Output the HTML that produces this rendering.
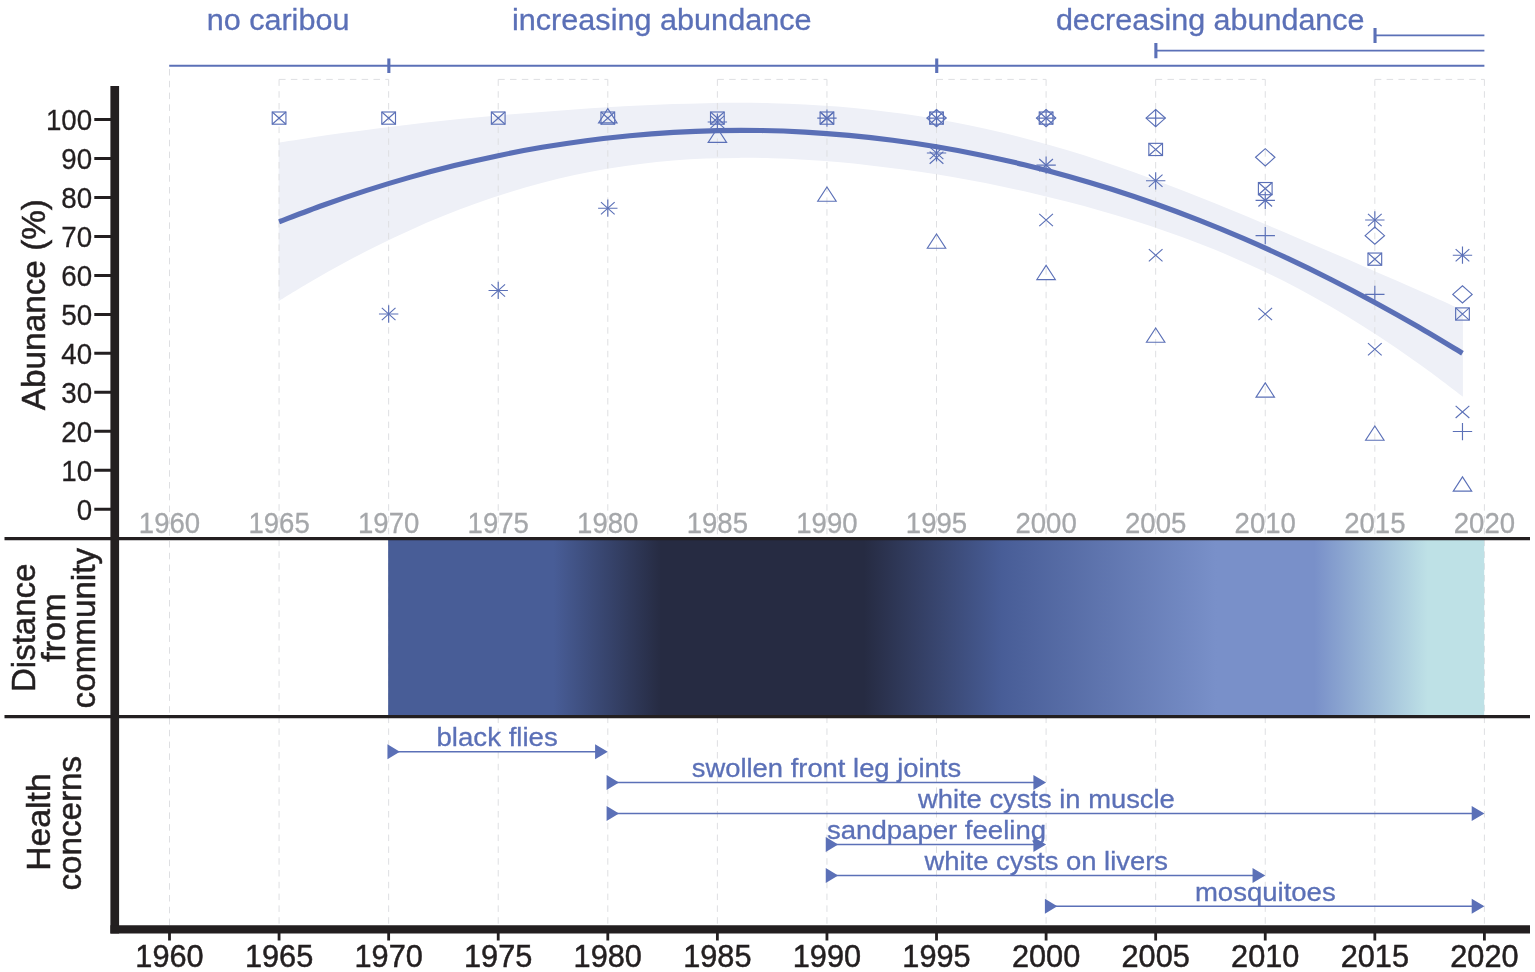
<!DOCTYPE html>
<html lang="en">
<head>
<meta charset="utf-8">
<title>Caribou abundance, distance from community and health concerns</title>
<style>
html,body{margin:0;padding:0;background:#fff;}
body{width:1535px;height:972px;overflow:hidden;}
svg{display:block;}
text{white-space:pre;}
</style>
</head>
<body>
<svg width="1535" height="972" viewBox="0 0 1535 972" font-family='"Liberation Sans", sans-serif'>
<rect width="1535" height="972" fill="#fff"/>
<path d="M278.64 142.76 C284.12 141.89 300.55 139.21 311.51 137.55 C322.47 135.88 333.42 134.29 344.38 132.77 C355.34 131.24 366.3 129.79 377.25 128.4 C388.21 127.01 399.17 125.69 410.13 124.42 C421.08 123.16 432.04 121.96 443 120.81 C453.96 119.66 464.91 118.58 475.87 117.54 C486.83 116.5 497.79 115.51 508.74 114.57 C519.7 113.63 530.66 112.73 541.62 111.88 C552.57 111.03 563.53 110.23 574.49 109.47 C585.45 108.71 596.4 108 607.36 107.34 C618.32 106.68 629.28 106.07 640.23 105.53 C651.19 104.99 662.15 104.51 673.11 104.12 C684.06 103.73 695.02 103.4 705.98 103.19 C716.94 102.98 727.89 102.86 738.85 102.87 C749.81 102.88 760.77 103 771.72 103.27 C782.68 103.54 793.64 103.93 804.6 104.48 C815.55 105.04 826.51 105.73 837.47 106.6 C848.43 107.47 859.38 108.49 870.34 109.69 C881.3 110.89 892.26 112.26 903.21 113.81 C914.17 115.35 925.13 117.07 936.09 118.97 C947.04 120.88 958 122.96 968.96 125.22 C979.92 127.48 990.87 129.92 1001.83 132.53 C1012.79 135.15 1023.75 137.95 1034.7 140.92 C1045.66 143.89 1056.62 147.03 1067.58 150.34 C1078.53 153.64 1089.49 157.12 1100.45 160.75 C1111.41 164.37 1122.36 168.16 1133.32 172.06 C1144.28 175.97 1155.24 180.04 1166.19 184.19 C1177.15 188.35 1188.11 192.64 1199.07 196.99 C1210.02 201.35 1220.98 205.81 1231.94 210.31 C1242.9 214.81 1253.85 219.4 1264.81 223.99 C1275.77 228.59 1286.73 233.24 1297.68 237.9 C1308.64 242.56 1319.6 247.25 1330.56 251.95 C1341.51 256.66 1352.47 261.39 1363.43 266.15 C1374.39 270.91 1385.34 275.69 1396.3 280.51 C1407.26 285.34 1418.07 290.12 1429.17 295.09 C1440.28 300.07 1457.3 307.81 1462.92 310.36 L1462.92 396.81 C1457.3 392.56 1440.28 379.43 1429.17 371.31 C1418.07 363.18 1407.26 355.54 1396.3 348.06 C1385.34 340.58 1374.39 333.37 1363.43 326.44 C1352.47 319.52 1341.51 312.87 1330.56 306.51 C1319.6 300.15 1308.64 294.08 1297.68 288.29 C1286.73 282.5 1275.77 277.01 1264.81 271.77 C1253.85 266.54 1242.9 261.59 1231.94 256.88 C1220.98 252.16 1210.02 247.72 1199.07 243.47 C1188.11 239.23 1177.15 235.23 1166.19 231.41 C1155.24 227.58 1144.28 223.97 1133.32 220.51 C1122.36 217.06 1111.41 213.79 1100.45 210.67 C1089.49 207.54 1078.53 204.58 1067.58 201.76 C1056.62 198.93 1045.66 196.26 1034.7 193.71 C1023.75 191.16 1012.79 188.76 1001.83 186.48 C990.87 184.2 979.92 182.06 968.96 180.04 C958 178.02 947.04 176.13 936.09 174.37 C925.13 172.61 914.17 170.97 903.21 169.48 C892.26 167.98 881.3 166.61 870.34 165.38 C859.38 164.16 848.43 163.06 837.47 162.12 C826.51 161.17 815.55 160.37 804.6 159.73 C793.64 159.09 782.68 158.6 771.72 158.29 C760.77 157.98 749.81 157.83 738.85 157.88 C727.89 157.94 716.94 158.16 705.98 158.61 C695.02 159.06 684.06 159.7 673.11 160.59 C662.15 161.47 651.19 162.57 640.23 163.92 C629.28 165.28 618.32 166.87 607.36 168.72 C596.4 170.57 585.45 172.67 574.49 175.04 C563.53 177.41 552.57 180.04 541.62 182.93 C530.66 185.83 519.7 188.99 508.74 192.41 C497.79 195.83 486.83 199.51 475.87 203.45 C464.91 207.39 453.96 211.58 443 216.03 C432.04 220.48 421.08 225.18 410.13 230.13 C399.17 235.08 388.21 240.28 377.25 245.72 C366.3 251.16 355.34 256.84 344.38 262.77 C333.42 268.69 322.47 274.85 311.51 281.25 C300.55 287.65 284.12 297.84 278.64 301.16 Z" fill="#eef0f7"/>
<g stroke="#dedfe2" stroke-width="1" stroke-dasharray="6.5 5.3" fill="none">
<line x1="169.5" y1="69" x2="169.5" y2="926"/>
<line x1="279.07" y1="79.4" x2="279.07" y2="926"/>
<line x1="388.65" y1="79.4" x2="388.65" y2="926"/>
<line x1="498.22" y1="79.4" x2="498.22" y2="926"/>
<line x1="607.8" y1="79.4" x2="607.8" y2="926"/>
<line x1="717.38" y1="79.4" x2="717.38" y2="926"/>
<line x1="826.95" y1="79.4" x2="826.95" y2="926"/>
<line x1="936.52" y1="79.4" x2="936.52" y2="926"/>
<line x1="1046.1" y1="79.4" x2="1046.1" y2="926"/>
<line x1="1155.67" y1="79.4" x2="1155.67" y2="926"/>
<line x1="1265.25" y1="79.4" x2="1265.25" y2="926"/>
<line x1="1374.83" y1="79.4" x2="1374.83" y2="926"/>
<line x1="1484.4" y1="79.4" x2="1484.4" y2="926"/>
<line x1="279.07" y1="79.4" x2="388.65" y2="79.4"/>
<line x1="498.22" y1="79.4" x2="607.8" y2="79.4"/>
<line x1="717.38" y1="79.4" x2="826.95" y2="79.4"/>
<line x1="936.52" y1="79.4" x2="1046.1" y2="79.4"/>
<line x1="1155.67" y1="79.4" x2="1265.25" y2="79.4"/>
<line x1="1374.83" y1="79.4" x2="1484.4" y2="79.4"/>
</g>
<g fill="none" stroke="#5b70b7" stroke-width="1.15">
<rect x="272.22" y="112" width="13.7" height="12.2"/>
<path d="M272.22 112L285.93 124.2M272.22 124.2L285.93 112"/>
<rect x="381.8" y="112" width="13.7" height="12.2"/>
<path d="M381.8 112L395.5 124.2M381.8 124.2L395.5 112"/>
<rect x="491.37" y="112" width="13.7" height="12.2"/>
<path d="M491.37 112L505.07 124.2M491.37 124.2L505.07 112"/>
<rect x="600.95" y="112" width="13.7" height="12.2"/>
<path d="M600.95 112L614.65 124.2M600.95 124.2L614.65 112"/>
<rect x="710.52" y="112" width="13.7" height="12.2"/>
<path d="M710.52 112L724.23 124.2M710.52 124.2L724.23 112"/>
<rect x="820.1" y="112" width="13.7" height="12.2"/>
<path d="M820.1 112L833.8 124.2M820.1 124.2L833.8 112"/>
<rect x="929.67" y="112" width="13.7" height="12.2"/>
<path d="M929.67 112L943.38 124.2M929.67 124.2L943.38 112"/>
<rect x="1039.25" y="112" width="13.7" height="12.2"/>
<path d="M1039.25 112L1052.95 124.2M1039.25 124.2L1052.95 112"/>
<rect x="1148.83" y="143.34" width="13.7" height="12.2"/>
<path d="M1148.83 143.34L1162.52 155.54M1148.83 155.54L1162.52 143.34"/>
<rect x="1258.4" y="182.52" width="13.7" height="12.2"/>
<path d="M1258.4 182.52L1272.1 194.72M1258.4 194.72L1272.1 182.52"/>
<rect x="1367.98" y="253.05" width="13.7" height="12.2"/>
<path d="M1367.98 253.05L1381.67 265.25M1367.98 265.25L1381.67 253.05"/>
<rect x="1455.63" y="307.9" width="13.7" height="12.2"/>
<path d="M1455.63 307.9L1469.33 320.1M1455.63 320.1L1469.33 307.9"/>
<path d="M381.8 307.9L395.5 320.1M381.8 320.1L395.5 307.9"/>
<path d="M378.96 314H398.34M388.65 305.37V322.63"/>
<path d="M491.37 284.39L505.07 296.59M491.37 296.59L505.07 284.39"/>
<path d="M488.54 290.49H507.91M498.22 281.87V299.12"/>
<path d="M600.95 202.11L614.65 214.31M600.95 214.31L614.65 202.11"/>
<path d="M598.11 208.21H617.49M607.8 199.59V216.84"/>
<path d="M710.52 115.92L724.23 128.12M710.52 128.12L724.23 115.92"/>
<path d="M707.69 122.02H727.06M717.38 113.39V130.64"/>
<path d="M820.1 112L833.8 124.2M820.1 124.2L833.8 112"/>
<path d="M817.26 118.1H836.64M826.95 109.47V126.73"/>
<path d="M929.67 146.87L943.38 159.07M929.67 159.07L943.38 146.87"/>
<path d="M926.84 152.97H946.21M936.52 144.34V161.6"/>
<path d="M1039.25 159.02L1052.95 171.22M1039.25 171.22L1052.95 159.02"/>
<path d="M1036.41 165.12H1055.79M1046.1 156.49V173.74"/>
<path d="M1148.83 174.69L1162.52 186.89M1148.83 186.89L1162.52 174.69"/>
<path d="M1145.99 180.79H1165.36M1155.67 172.16V189.41"/>
<path d="M1258.4 194.28L1272.1 206.48M1258.4 206.48L1272.1 194.28"/>
<path d="M1255.56 200.38H1274.94M1265.25 191.75V209"/>
<path d="M1367.98 213.87L1381.67 226.07M1367.98 226.07L1381.67 213.87"/>
<path d="M1365.14 219.97H1384.51M1374.83 211.34V228.59"/>
<path d="M1455.63 249.13L1469.33 261.33M1455.63 261.33L1469.33 249.13"/>
<path d="M1452.8 255.23H1472.17M1462.48 246.6V263.86"/>
<path d="M607.8 108.61L617.03 122.84L598.57 122.84Z"/>
<path d="M717.38 128.2L726.6 142.43L708.15 142.43Z"/>
<path d="M826.95 186.97L836.18 201.2L817.72 201.2Z"/>
<path d="M936.52 233.99L945.75 248.22L927.3 248.22Z"/>
<path d="M1046.1 265.33L1055.33 279.56L1036.87 279.56Z"/>
<path d="M1155.67 328.02L1164.9 342.25L1146.45 342.25Z"/>
<path d="M1265.25 382.87L1274.48 397.1L1256.02 397.1Z"/>
<path d="M1374.83 425.97L1384.05 440.2L1365.6 440.2Z"/>
<path d="M1462.48 476.91L1471.71 491.14L1453.26 491.14Z"/>
<path d="M926.84 118.1L936.52 109.47L946.21 118.1L936.52 126.73Z"/>
<path d="M1036.41 118.1L1046.1 109.47L1055.79 118.1L1046.1 126.73Z"/>
<path d="M1145.99 118.1L1155.67 109.47L1165.36 118.1L1155.67 126.73Z"/>
<path d="M1255.56 157.28L1265.25 148.65L1274.94 157.28L1265.25 165.91Z"/>
<path d="M1365.14 235.64L1374.83 227.01L1384.51 235.64L1374.83 244.27Z"/>
<path d="M1452.8 294.41L1462.48 285.78L1472.17 294.41L1462.48 303.04Z"/>
<path d="M926.84 118.1H946.21M936.52 109.47V126.73"/>
<path d="M1036.41 118.1H1055.79M1046.1 109.47V126.73"/>
<path d="M1145.99 118.1H1165.36M1155.67 109.47V126.73"/>
<path d="M1255.56 235.64H1274.94M1265.25 227.01V244.27"/>
<path d="M1365.14 294.41H1384.51M1374.83 285.78V303.04"/>
<path d="M1452.8 431.54H1472.17M1462.48 422.91V440.17"/>
<path d="M929.67 151.57L943.38 163.77M929.67 163.77L943.38 151.57"/>
<path d="M1039.25 213.87L1052.95 226.07M1039.25 226.07L1052.95 213.87"/>
<path d="M1148.83 249.13L1162.52 261.33M1148.83 261.33L1162.52 249.13"/>
<path d="M1258.4 307.9L1272.1 320.1M1258.4 320.1L1272.1 307.9"/>
<path d="M1367.98 343.16L1381.67 355.36M1367.98 355.36L1381.67 343.16"/>
<path d="M1455.63 405.85L1469.33 418.05M1455.63 418.05L1469.33 405.85"/>
</g>
<path d="M279.07 221.78 C286.38 219.03 308.29 210.49 322.9 205.26 C337.51 200.03 352.12 195.07 366.74 190.38 C381.35 185.7 395.95 181.29 410.56 177.15 C425.18 173.02 439.78 169.16 454.39 165.57 C469 161.98 483.61 158.67 498.22 155.63 C512.84 152.59 527.45 149.82 542.06 147.33 C556.67 144.84 571.27 142.63 585.88 140.69 C600.5 138.74 615.1 137.08 629.71 135.68 C644.32 134.29 658.93 133.17 673.54 132.33 C688.15 131.48 702.76 130.91 717.38 130.62 C731.99 130.32 746.59 130.3 761.2 130.55 C775.81 130.8 790.42 131.33 805.03 132.13 C819.64 132.93 834.25 134.01 848.87 135.36 C863.48 136.71 878.08 138.33 892.69 140.23 C907.3 142.13 921.91 144.3 936.52 146.74 C951.13 149.19 965.75 151.91 980.36 154.91 C994.97 157.9 1009.57 161.17 1024.18 164.72 C1038.79 168.26 1053.4 172.08 1068.01 176.17 C1082.62 180.26 1097.23 184.63 1111.84 189.27 C1126.45 193.91 1141.07 198.83 1155.67 204.02 C1170.28 209.2 1184.89 214.67 1199.5 220.41 C1214.11 226.14 1228.72 232.16 1243.34 238.44 C1257.95 244.73 1272.56 251.29 1287.16 258.13 C1301.77 264.96 1316.38 272.07 1330.99 279.45 C1345.61 286.84 1360.22 294.5 1374.83 302.43 C1389.43 310.36 1404.05 318.57 1418.65 327.05 C1433.26 335.53 1455.18 348.94 1462.48 353.31" fill="none" stroke="#5a6fb6" stroke-width="5.1"/>
<defs><linearGradient id="g" x1="0" y1="0" x2="1" y2="0">
<stop offset="0" stop-color="#485d97"/>
<stop offset="0.151" stop-color="#485d97"/>
<stop offset="0.249" stop-color="#262b42"/>
<stop offset="0.434" stop-color="#262b42"/>
<stop offset="0.56" stop-color="#485d97"/>
<stop offset="0.756" stop-color="#7990c9"/>
<stop offset="0.845" stop-color="#7990c9"/>
<stop offset="0.9485" stop-color="#bee1e6"/>
<stop offset="1" stop-color="#bee1e6"/>
</linearGradient></defs>
<rect x="388.15" y="539" width="1096.05" height="177" fill="url(#g)"/>
<g stroke="#5b70b7" fill="none">
<path d="M169.2 65.75H1484.4" stroke-width="1.8"/>
<path d="M1155.67 50.6H1484.4" stroke-width="1.8"/>
<path d="M1374.83 35.45H1484.4" stroke-width="1.8"/>
<path d="M388.85 58.4V73.1M936.73 58.4V73.1M1155.88 43V58.3M1375.03 27.9V43.1" stroke-width="3.1"/>
</g>
<path d="M388.65 751.7H605.8" stroke="#5b70b7" stroke-width="1.5" fill="none"/>
<path d="M387.45 744.2L399.85 751.7L387.45 759.2ZM595.1 744.2L607.8 751.7L595.1 759.2Z" fill="#5b70b7"/>
<path d="M607.8 782.6H1044.1" stroke="#5b70b7" stroke-width="1.5" fill="none"/>
<path d="M606.6 775.1L619 782.6L606.6 790.1ZM1033.4 775.1L1046.1 782.6L1033.4 790.1Z" fill="#5b70b7"/>
<path d="M607.8 813.5H1482.4" stroke="#5b70b7" stroke-width="1.5" fill="none"/>
<path d="M606.6 806L619 813.5L606.6 821ZM1471.7 806L1484.4 813.5L1471.7 821Z" fill="#5b70b7"/>
<path d="M826.95 844.4H1044.1" stroke="#5b70b7" stroke-width="1.5" fill="none"/>
<path d="M825.75 836.9L838.15 844.4L825.75 851.9ZM1033.4 836.9L1046.1 844.4L1033.4 851.9Z" fill="#5b70b7"/>
<path d="M826.95 875.5H1263.25" stroke="#5b70b7" stroke-width="1.5" fill="none"/>
<path d="M825.75 868L838.15 875.5L825.75 883ZM1252.55 868L1265.25 875.5L1252.55 883Z" fill="#5b70b7"/>
<path d="M1046.1 906.3H1482.4" stroke="#5b70b7" stroke-width="1.5" fill="none"/>
<path d="M1044.9 898.8L1057.3 906.3L1044.9 913.8ZM1471.7 898.8L1484.4 906.3L1471.7 913.8Z" fill="#5b70b7"/>
<g stroke="#231f20" fill="none">
<path d="M4.5 538.65H1530M4.5 716.65H1530" stroke-width="3.3"/>
<path d="M94.3 509.3H111M94.3 470.31H111M94.3 431.33H111M94.3 392.34H111M94.3 353.36H111M94.3 314.38H111M94.3 275.39H111M94.3 236.41H111M94.3 197.42H111M94.3 158.44H111M94.3 119.45H111" stroke-width="3"/>
<path d="M169.5 932V940.6M279.07 932V940.6M388.65 932V940.6M498.22 932V940.6M607.8 932V940.6M717.38 932V940.6M826.95 932V940.6M936.52 932V940.6M1046.1 932V940.6M1155.67 932V940.6M1265.25 932V940.6M1374.83 932V940.6M1484.4 932V940.6" stroke-width="2.8"/>
<path d="M114.75 86.1V933.6" stroke-width="8.7"/>
<path d="M110.4 929.4H1530" stroke-width="8.4"/>
</g>
<text transform="translate(206.66 29.7) scale(1.0161 1)" font-size="30.1" fill="#5b70b7" stroke="#5b70b7" stroke-width="0.3">no caribou</text>
<text transform="translate(511.91 29.7) scale(1.0178 1)" font-size="30.1" fill="#5b70b7" stroke="#5b70b7" stroke-width="0.3">increasing abundance</text>
<text transform="translate(1055.88 29.7) scale(1.0137 1)" font-size="30.1" fill="#5b70b7" stroke="#5b70b7" stroke-width="0.3">decreasing abundance</text>
<text transform="translate(436.5 746.1) scale(1.0624 1)" font-size="26" fill="#5b70b7" stroke="#5b70b7" stroke-width="0.3">black flies</text>
<text transform="translate(691.78 777) scale(1.0535 1)" font-size="26" fill="#5b70b7" stroke="#5b70b7" stroke-width="0.3">swollen front leg joints</text>
<text transform="translate(918 807.9) scale(1.052 1)" font-size="26" fill="#5b70b7" stroke="#5b70b7" stroke-width="0.3">white cysts in muscle</text>
<text transform="translate(826.97 838.8) scale(1.0606 1)" font-size="26" fill="#5b70b7" stroke="#5b70b7" stroke-width="0.3">sandpaper feeling</text>
<text transform="translate(924.4 869.9) scale(1.0546 1)" font-size="26" fill="#5b70b7" stroke="#5b70b7" stroke-width="0.3">white cysts on livers</text>
<text transform="translate(1194.91 900.7) scale(1.0594 1)" font-size="26" fill="#5b70b7" stroke="#5b70b7" stroke-width="0.3">mosquitoes</text>
<text transform="translate(76.82 519.6) scale(0.9271 1)" font-size="29.9" fill="#231f20" stroke="#231f20" stroke-width="0.3">0</text>
<text transform="translate(61.3 480.62) scale(0.9271 1)" font-size="29.9" fill="#231f20" stroke="#231f20" stroke-width="0.3">10</text>
<text transform="translate(61.3 441.63) scale(0.9271 1)" font-size="29.9" fill="#231f20" stroke="#231f20" stroke-width="0.3">20</text>
<text transform="translate(61.3 402.64) scale(0.9271 1)" font-size="29.9" fill="#231f20" stroke="#231f20" stroke-width="0.3">30</text>
<text transform="translate(61.3 363.66) scale(0.9271 1)" font-size="29.9" fill="#231f20" stroke="#231f20" stroke-width="0.3">40</text>
<text transform="translate(61.3 324.68) scale(0.9271 1)" font-size="29.9" fill="#231f20" stroke="#231f20" stroke-width="0.3">50</text>
<text transform="translate(61.3 285.69) scale(0.9271 1)" font-size="29.9" fill="#231f20" stroke="#231f20" stroke-width="0.3">60</text>
<text transform="translate(61.3 246.71) scale(0.9271 1)" font-size="29.9" fill="#231f20" stroke="#231f20" stroke-width="0.3">70</text>
<text transform="translate(61.3 207.72) scale(0.9271 1)" font-size="29.9" fill="#231f20" stroke="#231f20" stroke-width="0.3">80</text>
<text transform="translate(61.3 168.74) scale(0.9271 1)" font-size="29.9" fill="#231f20" stroke="#231f20" stroke-width="0.3">90</text>
<text transform="translate(45.92 129.75) scale(0.9271 1)" font-size="29.9" fill="#231f20" stroke="#231f20" stroke-width="0.3">100</text>
<text transform="translate(138.82 532.5) scale(0.951 1)" font-size="29" fill="#a5a7aa" stroke="#a5a7aa" stroke-width="0.3">1960</text>
<text transform="translate(135.32 966.8) scale(0.985 1)" font-size="31.2" fill="#231f20" stroke="#231f20" stroke-width="0.5">1960</text>
<text transform="translate(248.4 532.5) scale(0.951 1)" font-size="29" fill="#a5a7aa" stroke="#a5a7aa" stroke-width="0.3">1965</text>
<text transform="translate(244.89 966.8) scale(0.985 1)" font-size="31.2" fill="#231f20" stroke="#231f20" stroke-width="0.5">1965</text>
<text transform="translate(357.97 532.5) scale(0.951 1)" font-size="29" fill="#a5a7aa" stroke="#a5a7aa" stroke-width="0.3">1970</text>
<text transform="translate(354.47 966.8) scale(0.985 1)" font-size="31.2" fill="#231f20" stroke="#231f20" stroke-width="0.5">1970</text>
<text transform="translate(467.55 532.5) scale(0.951 1)" font-size="29" fill="#a5a7aa" stroke="#a5a7aa" stroke-width="0.3">1975</text>
<text transform="translate(464.04 966.8) scale(0.985 1)" font-size="31.2" fill="#231f20" stroke="#231f20" stroke-width="0.5">1975</text>
<text transform="translate(577.12 532.5) scale(0.951 1)" font-size="29" fill="#a5a7aa" stroke="#a5a7aa" stroke-width="0.3">1980</text>
<text transform="translate(573.62 966.8) scale(0.985 1)" font-size="31.2" fill="#231f20" stroke="#231f20" stroke-width="0.5">1980</text>
<text transform="translate(686.7 532.5) scale(0.951 1)" font-size="29" fill="#a5a7aa" stroke="#a5a7aa" stroke-width="0.3">1985</text>
<text transform="translate(683.19 966.8) scale(0.985 1)" font-size="31.2" fill="#231f20" stroke="#231f20" stroke-width="0.5">1985</text>
<text transform="translate(796.27 532.5) scale(0.951 1)" font-size="29" fill="#a5a7aa" stroke="#a5a7aa" stroke-width="0.3">1990</text>
<text transform="translate(792.77 966.8) scale(0.985 1)" font-size="31.2" fill="#231f20" stroke="#231f20" stroke-width="0.5">1990</text>
<text transform="translate(905.85 532.5) scale(0.951 1)" font-size="29" fill="#a5a7aa" stroke="#a5a7aa" stroke-width="0.3">1995</text>
<text transform="translate(902.34 966.8) scale(0.985 1)" font-size="31.2" fill="#231f20" stroke="#231f20" stroke-width="0.5">1995</text>
<text transform="translate(1015.42 532.5) scale(0.951 1)" font-size="29" fill="#a5a7aa" stroke="#a5a7aa" stroke-width="0.3">2000</text>
<text transform="translate(1011.92 966.8) scale(0.985 1)" font-size="31.2" fill="#231f20" stroke="#231f20" stroke-width="0.5">2000</text>
<text transform="translate(1125 532.5) scale(0.951 1)" font-size="29" fill="#a5a7aa" stroke="#a5a7aa" stroke-width="0.3">2005</text>
<text transform="translate(1121.49 966.8) scale(0.985 1)" font-size="31.2" fill="#231f20" stroke="#231f20" stroke-width="0.5">2005</text>
<text transform="translate(1234.57 532.5) scale(0.951 1)" font-size="29" fill="#a5a7aa" stroke="#a5a7aa" stroke-width="0.3">2010</text>
<text transform="translate(1231.07 966.8) scale(0.985 1)" font-size="31.2" fill="#231f20" stroke="#231f20" stroke-width="0.5">2010</text>
<text transform="translate(1344.15 532.5) scale(0.951 1)" font-size="29" fill="#a5a7aa" stroke="#a5a7aa" stroke-width="0.3">2015</text>
<text transform="translate(1340.64 966.8) scale(0.985 1)" font-size="31.2" fill="#231f20" stroke="#231f20" stroke-width="0.5">2015</text>
<text transform="translate(1453.72 532.5) scale(0.951 1)" font-size="29" fill="#a5a7aa" stroke="#a5a7aa" stroke-width="0.3">2020</text>
<text transform="translate(1450.22 966.8) scale(0.985 1)" font-size="31.2" fill="#231f20" stroke="#231f20" stroke-width="0.5">2020</text>
<text transform="translate(44.5 410.17) rotate(-90) scale(1.001 1)" font-size="33.3" fill="#231f20" stroke="#231f20" stroke-width="0.5">Abunance (%)</text>
<text transform="translate(35 692.04) rotate(-90) scale(0.9922 1)" font-size="33.3" fill="#231f20" stroke="#231f20" stroke-width="0.5">Distance</text>
<text transform="translate(65.4 662.12) rotate(-90) scale(1.0354 1)" font-size="33.3" fill="#231f20" stroke="#231f20" stroke-width="0.5">from</text>
<text transform="translate(95 708.39) rotate(-90) scale(0.9966 1)" font-size="33.3" fill="#231f20" stroke="#231f20" stroke-width="0.5">community</text>
<text transform="translate(50.4 870.8) rotate(-90) scale(1.013 1)" font-size="33.3" fill="#231f20" stroke="#231f20" stroke-width="0.5">Health</text>
<text transform="translate(81.2 890.6) rotate(-90) scale(0.998 1)" font-size="33.3" fill="#231f20" stroke="#231f20" stroke-width="0.5">concerns</text>
</svg>
</body>
</html>
